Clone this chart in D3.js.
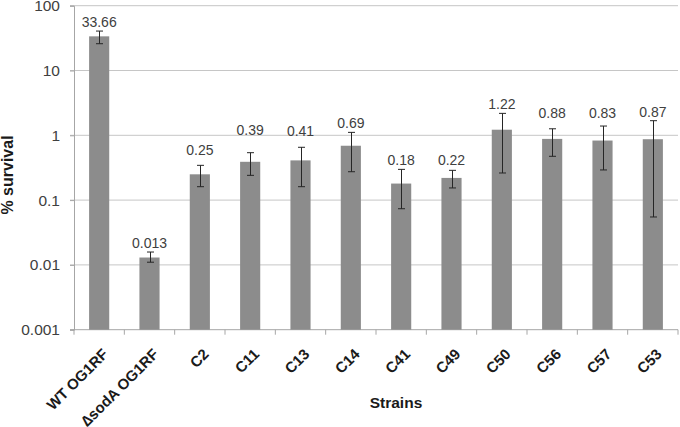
<!DOCTYPE html>
<html><head><meta charset="utf-8">
<script src="https://cdn.jsdelivr.net/npm/d3@7"></script>
<style>
html,body{margin:0;padding:0;background:#fff;}
text{font-family:"Liberation Sans",Arial,sans-serif;}
</style></head>
<body><svg id="c" width="680" height="427"></svg>
<script>
const categories = ["WT OG1RF","\u2206sodA OG1RF","C2","C11","C13","C14","C41","C49","C50","C56","C57","C53"];
const survival   = [33.66, 0.013, 0.25, 0.39, 0.41, 0.69, 0.18, 0.22, 1.22, 0.88, 0.83, 0.87];
const errHigh    = [40.6, 0.0158, 0.344, 0.539, 0.653, 1.11, 0.298, 0.288, 2.18, 1.26, 1.39, 1.68];
const errLow     = [25.9, 0.011, 0.161, 0.241, 0.161, 0.274, 0.0736, 0.154, 0.262, 0.474, 0.292, 0.0549];
const valueLabels = ["33.66","0.013","0.25","0.39","0.41","0.69","0.18","0.22","1.22","0.88","0.83","0.87"];
const yTicks = [0.001, 0.01, 0.1, 1, 10, 100];
const yTickLabels = ["0.001","0.01","0.1","1","10","100"];

// layout-only: extra lift (px) of value labels above their error bar tops
const labelLift = [0, 0, 6, 14, 7, 0, 0, 1, 0, 7, 4, 0];

const svg = d3.select("#c");
const L = 74, R = 678, T = 5.7, B = 329.7;
const x = d3.scaleBand().domain(categories).range([L, R]).padding(0);
const y = d3.scaleLog().domain([0.001, 100]).range([B, T]);
const gridC = "#c6c6c6", axisC = "#a6a6a6", textC = "#404040", barC = "#8c8c8c";

// gridlines
svg.append("g").selectAll("line").data(yTicks.slice(1)).join("line")
  .attr("x1", L - 4).attr("x2", R).attr("y1", d => y(d)).attr("y2", d => y(d))
  .attr("stroke", gridC).attr("stroke-width", 1);

// y axis
const yAxis = d3.axisLeft(y).tickValues(yTicks).tickFormat((d, i) => yTickLabels[i]).tickSize(4).tickPadding(10);
const ga = svg.append("g").attr("transform", `translate(${L},0)`).call(yAxis);
ga.select(".domain").attr("stroke", axisC);
ga.selectAll(".tick line").attr("stroke", axisC);
ga.selectAll(".tick text").attr("fill", textC).style("font-size", "15.5px").style("font-family", "Liberation Sans, Arial, sans-serif");

// x axis
const gx = svg.append("g");
gx.append("line").attr("x1", L - 4).attr("x2", R).attr("y1", B).attr("y2", B).attr("stroke", axisC);
const bounds = categories.map(c => x(c)).concat([R]);
gx.selectAll("line.tk").data(bounds).join("line").attr("class", "tk")
  .attr("x1", d => d).attr("x2", d => d).attr("y1", B).attr("y2", B + 5).attr("stroke", axisC);

// bars
const bw = x.bandwidth() * 0.4;
svg.append("g").selectAll("rect").data(categories).join("rect")
  .attr("x", d => x(d) + x.bandwidth() / 2 - bw / 2)
  .attr("width", bw)
  .attr("y", (d, i) => y(survival[i]))
  .attr("height", (d, i) => B - y(survival[i]))
  .attr("fill", barC);

// error bars
const eg = svg.append("g").attr("stroke", "#262626").attr("stroke-width", 1);
categories.forEach((c, i) => {
  const cx = Math.round(x(c) + x.bandwidth() / 2) + 0.5;
  const yt = y(errHigh[i]), yb = y(errLow[i]);
  eg.append("line").attr("x1", cx).attr("x2", cx).attr("y1", yt).attr("y2", yb);
  eg.append("line").attr("x1", cx - 3.5).attr("x2", cx + 3.5).attr("y1", yt).attr("y2", yt);
  eg.append("line").attr("x1", cx - 3.5).attr("x2", cx + 3.5).attr("y1", yb).attr("y2", yb);
});

// value labels
svg.append("g").selectAll("text").data(categories).join("text")
  .attr("x", d => x(d) + x.bandwidth() / 2)
  .attr("y", (d, i) => y(errHigh[i]) - 4 - labelLift[i])
  .attr("text-anchor", "middle").attr("fill", textC).style("font-size", "14px")
  .text((d, i) => valueLabels[i]);

// category labels
svg.append("g").selectAll("text").data(categories).join("text")
  .attr("transform", d => `translate(${x(d) + x.bandwidth() / 2 + 2.5},${B + 18}) rotate(-45)`)
  .attr("text-anchor", "end").attr("dy", "0.7em").attr("fill", "#1a1a1a")
  .style("font-size", "15px").style("font-weight", "bold")
  .text(d => d);

// axis titles
svg.append("text").attr("x", 396).attr("y", 408).attr("text-anchor", "middle")
  .attr("fill", "#1a1a1a").style("font-size", "15.5px").style("font-weight", "bold").text("Strains");
svg.append("text").attr("transform", "translate(13,175) rotate(-90)").attr("text-anchor", "middle")
  .attr("fill", "#1a1a1a").style("font-size", "16px").style("font-weight", "bold").text("% survival");
</script></body></html>
